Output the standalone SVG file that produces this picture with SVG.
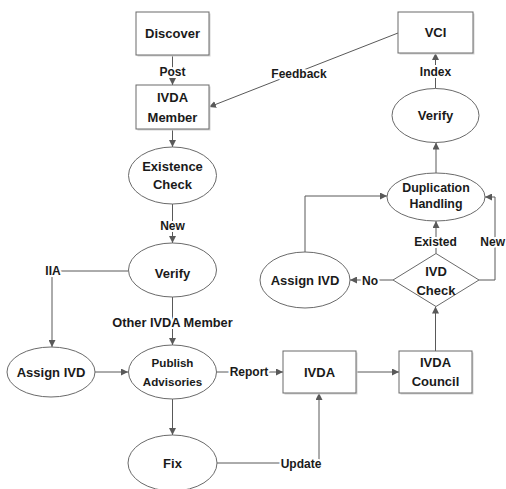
<svg xmlns="http://www.w3.org/2000/svg" width="506" height="489" viewBox="0 0 506 489">
<style>
  .box{fill:#fff;stroke:#6a6a6a;stroke-width:1}
  .shadow{fill:#d4d4d4;stroke:none}
  .ell{fill:#fff;stroke:#6a6a6a;stroke-width:1}
  .t{font-family:"Liberation Sans",Arial,sans-serif;font-weight:bold;font-size:13px;fill:#1a1a1a;text-anchor:middle}
  .lbl{font-family:"Liberation Sans",Arial,sans-serif;font-weight:bold;font-size:12px;fill:#1a1a1a;text-anchor:middle;stroke:#fff;stroke-width:4;paint-order:stroke;stroke-linejoin:round}
  .c{fill:none;stroke:#595959;stroke-width:1}
  .a{marker-end:url(#arr)}
</style>
<defs>
  <marker id="arr" viewBox="0 0 10 10" refX="10" refY="5" markerWidth="7" markerHeight="7" orient="auto" markerUnits="userSpaceOnUse">
    <path d="M0,0 L10,5 L0,10 z" fill="#595959"/>
  </marker>
</defs>
<rect width="506" height="489" fill="#fff"/>

<g id="connectors">
  <path class="c a" d="M172.5,55 V85"/>
  <path class="c a" d="M398,33 L209,107"/>
  <path class="c a" d="M172.5,129 V147"/>
  <path class="c a" d="M172.5,204 V243"/>
  <path class="c a" d="M128,271 H52 V347"/>
  <path class="c a" d="M172.5,297 V345"/>
  <path class="c a" d="M95,372 H128"/>
  <path class="c a" d="M217,372 H283"/>
  <path class="c a" d="M172.5,399 V435"/>
  <path class="c a" d="M217,463 H319 V393"/>
  <path class="c a" d="M356,372 H399"/>
  <path class="c a" d="M435.5,351 V306.5"/>
  <path class="c a" d="M393,280 H350"/>
  <path class="c a" d="M436,253.5 V221"/>
  <path class="c a" d="M479,280 H495 V197 H485"/>
  <path class="c a" d="M305,252 V196 H387"/>
  <path class="c a" d="M436,173 V142.5"/>
  <path class="c a" d="M435.5,88.5 V53"/>
  <text class="lbl" x="172.5" y="75.5">Post</text>
  <text class="lbl" x="299" y="78">Feedback</text>
  <text class="lbl" x="172.5" y="229.5">New</text>
  <text class="lbl" x="53" y="275">IIA</text>
  <text class="lbl" x="172.5" y="326.5" style="font-size:12.8px">Other IVDA Member</text>
  <text class="lbl" x="249" y="376">Report</text>
  <text class="lbl" x="301" y="467.5">Update</text>
  <text class="lbl" x="370" y="285">No</text>
  <text class="lbl" x="435.5" y="246">Existed</text>
  <text class="lbl" x="505" y="246" style="text-anchor:end">New</text>
  <text class="lbl" x="435.5" y="75.5">Index</text>
</g>

<g id="discover">
  <rect class="shadow" x="137.5" y="13.5" width="73" height="43"/>
  <rect class="box" x="136" y="12" width="73" height="43"/>
  <text class="t" x="172.5" y="38">Discover</text>
</g>
<g id="ivda-member">
  <rect class="shadow" x="137.5" y="86.5" width="73" height="44"/>
  <rect class="box" x="136" y="85" width="73" height="44"/>
  <text class="t" x="172.5" y="102">IVDA</text>
  <text class="t" x="172.5" y="122">Member</text>
</g>
<g id="existence-check">
  <ellipse class="ell" cx="172.5" cy="175.5" rx="44" ry="28.5"/>
  <text class="t" x="172.5" y="170.5">Existence</text>
  <text class="t" x="172.5" y="189">Check</text>
</g>
<g id="verify-left">
  <ellipse class="ell" cx="172.5" cy="270" rx="44" ry="27"/>
  <text class="t" x="172.5" y="277.5">Verify</text>
</g>
<g id="assign-ivd-left">
  <ellipse class="ell" cx="51" cy="372" rx="44" ry="25"/>
  <text class="t" x="51" y="376.5">Assign IVD</text>
</g>
<g id="publish-advisories">
  <ellipse class="ell" cx="172.5" cy="372" rx="44" ry="27"/>
  <text class="t" x="172.5" y="367" style="font-size:11.6px">Publish</text>
  <text class="t" x="172.5" y="386" style="font-size:11.6px">Advisories</text>
</g>
<g id="fix">
  <ellipse class="ell" cx="172.5" cy="463" rx="44.5" ry="28"/>
  <text class="t" x="172.5" y="467.5">Fix</text>
</g>
<g id="ivda">
  <rect class="shadow" x="284.5" y="352.5" width="73" height="42"/>
  <rect class="box" x="283" y="351" width="73" height="42"/>
  <text class="t" x="319.5" y="376.5">IVDA</text>
</g>
<g id="ivda-council">
  <rect class="shadow" x="400.5" y="352.5" width="73" height="42"/>
  <rect class="box" x="399" y="351" width="73" height="42"/>
  <text class="t" x="435.5" y="366.5">IVDA</text>
  <text class="t" x="435.5" y="386">Council</text>
</g>
<g id="ivd-check">
  <path class="ell" d="M436,253.5 L479,280 L436,306.5 L393,280 Z"/>
  <text class="t" x="436" y="276">IVD</text>
  <text class="t" x="436" y="295">Check</text>
</g>
<g id="assign-ivd-right">
  <ellipse class="ell" cx="305" cy="280" rx="45" ry="28"/>
  <text class="t" x="305" y="284.5">Assign IVD</text>
</g>
<g id="duplication-handling">
  <ellipse class="ell" cx="436" cy="197" rx="49" ry="24"/>
  <text class="t" x="436" y="191.5" style="font-size:12.4px">Duplication</text>
  <text class="t" x="436" y="207.5" style="font-size:12.4px">Handling</text>
</g>
<g id="verify-right">
  <ellipse class="ell" cx="435.5" cy="115.5" rx="43.5" ry="27"/>
  <text class="t" x="435.5" y="120">Verify</text>
</g>
<g id="vci">
  <rect class="shadow" x="399.5" y="13.5" width="75" height="41"/>
  <rect class="box" x="398" y="12" width="75" height="41"/>
  <text class="t" x="435.5" y="37">VCI</text>
</g>
</svg>
